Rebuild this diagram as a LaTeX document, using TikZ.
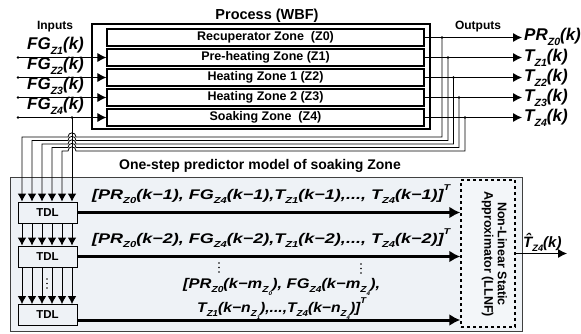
\documentclass[tikz,border=0pt]{standalone}
\usepackage{fontspec}
\setmainfont{Liberation Sans}
\usepackage{graphicx}
\usetikzlibrary{arrows.meta}
\newcommand\fz[1]{\fontsize{#1}{#1}\selectfont}
\newcommand\sbs[1]{\raisebox{-0.32em}{\scalebox{0.62}{#1}}}
\newcommand\sps[1]{\raisebox{0.6em}{\scalebox{0.6}{#1}}}
\newcommand\vv[2]{#1\sbs{#2}}
\definecolor{boxfill}{HTML}{EEF2F6}
\definecolor{llnffill}{HTML}{F3F6F9}
\begin{document}
\begin{tikzpicture}[x=1pt,y=-1pt,
  zonebox/.style={draw, line width=1.1pt, minimum width=317pt, minimum height=17pt, inner sep=0pt, font=\bfseries\fz{12.5}},
  ttl/.style={inner sep=0pt, font=\bfseries\fz{12}},
  lab/.style={inner sep=0pt, font=\bfseries\itshape\fz{17}},
  vec/.style={inner sep=0pt, font=\bfseries\itshape\fz{14}},
  tdlbox/.style={draw, line width=0.8pt, fill=boxfill, minimum width=59pt, minimum height=21pt, inner sep=0pt, font=\bfseries\fz{11.5}},
  inarrow/.style={line width=0.9pt, -{Latex[length=9pt,width=9pt]}},
  fbarrow/.style={line width=0.8pt, -{Latex[length=8pt,width=8.5pt]}},
  thickarrow/.style={line width=3pt, -{Latex[length=11pt,width=12pt]}}
]
\useasboundingbox (0,0) rectangle (581,333);

% ---- process block ----
\node[ttl, font=\bfseries\fz{14.5}] (proctitle) at (267,16) {Process (WBF)};
\node[draw, line width=1.2pt, minimum width=338pt, minimum height=105pt, inner sep=0pt] (proc) at (261,76.5) {};
\node[zonebox] (z0) at (265.5,37.5) {Recuperator Zone~ (Z0)};
\node[zonebox] (z1) at (265.5,57.5) {Pre-heating Zone (Z1)};
\node[zonebox] (z2) at (265.5,77.5) {Heating Zone 1 (Z2)};
\node[zonebox] (z3) at (265.5,97.5) {Heating Zone 2 (Z3)};
\node[zonebox] (z4) at (265.5,117.5) {Soaking Zone~ (Z4)};

% ---- inputs ----
\node[ttl] (inputs) at (55,27) {Inputs};
\node[lab, anchor=base west] (fg1) at (27,49.5) {\vv{FG}{Z1}(k)};
\node[lab, anchor=base west] (fg2) at (27,69.5) {\vv{FG}{Z2}(k)};
\node[lab, anchor=base west] (fg3) at (27,89.5) {\vv{FG}{Z3}(k)};
\node[lab, anchor=base west] (fg4) at (27,109.5) {\vv{FG}{Z4}(k)};
\coordinate (i1) at (18,57.5);
\coordinate (i2) at (18,77.5);
\coordinate (i3) at (18,97.5);
\coordinate (i4) at (18,117.5);
\foreach \k/\z in {1/z1,2/z2,3/z3,4/z4}{
  \draw[inarrow] (i\k) -- (\z.west);
  \fill (i\k) circle (1.3pt);
}

% ---- outputs ----
\node[ttl] (outputs) at (478,27) {Outputs};
\foreach \k/\y in {0/37.5,1/57.5,2/77.5,3/97.5,4/117.5}{
  \coordinate (o\k) at (522,\y);
  \draw[inarrow] (z\k.east) -- (o\k);
}
\node[lab, anchor=base west] (pr0) at (524,40.5) {\vv{PR}{Z0}(k)};
\node[lab, anchor=base west] (t1) at (524,61) {\vv{T}{Z1}(k)};
\node[lab, anchor=base west] (t2) at (524,81) {\vv{T}{Z2}(k)};
\node[lab, anchor=base west] (t3) at (524,101) {\vv{T}{Z3}(k)};
\node[lab, anchor=base west] (t4) at (524,121) {\vv{T}{Z4}(k)};

% ---- predictor block ----
\node[ttl, font=\bfseries\fz{14}] (predtitle) at (260,166) {One-step predictor model of soaking Zone};
\node[draw=black!75, line width=0.9pt, fill=boxfill, minimum width=512pt, minimum height=154pt, inner sep=0pt] (pred) at (266,254) {};

\node[tdlbox] (tdl1) at (47.5,212.5) {TDL};
\node[tdlbox] (tdl2) at (47.5,256.5) {TDL};
\node[tdlbox] (tdl3) at (47.5,315) {TDL};

\node[draw, dashed, line width=1.5pt, fill=llnffill, minimum width=54pt, minimum height=147pt, inner sep=0pt] (llnf) at (488,253.5) {};
\node[rotate=-90, align=center, inner sep=0pt, font=\bfseries\fz{12.5}, text height=10pt] (llnftext) at (488,254) {Non-Linear Static\\[1pt]Approximator (LLNF)};

% x positions of the TDL inputs
\foreach \x [count=\i] in {22,32,42,52,62,72}{ \coordinate (c\i) at (\x,0); }

% feedback taps on the output lines
\coordinate (d0) at (442,37.5);
\coordinate (d1) at (448,57.5);
\coordinate (d2) at (453.5,77.5);
\coordinate (d3) at (459,97.5);
\coordinate (d4) at (465,117.5);
\coordinate (dfg) at (72,117.5);

\foreach \k/\h [count=\i] in {0/137,1/140.5,2/144,3/147.5,4/151}{
  \draw[fbarrow] (d\k) |- (76,\h) .. controls (76,\h-5.5) and (68,\h-5.5) .. (68,\h) -| (c\i |- tdl1.north);
  \fill (d\k) circle (1.3pt);
}
\draw[fbarrow] (dfg) -- (c6 |- tdl1.north);
\fill (dfg) circle (1.3pt);

% between TDLs
\foreach \i in {1,...,6}{
  \draw[fbarrow] (c\i |- tdl1.south) -- (c\i |- tdl2.north);
  \draw[fbarrow] (c\i |- tdl2.south) -- (c\i |- tdl3.north);
}
\foreach \yy in {279,283.5,288}{ \fill[white] (47,\yy) circle (1.6pt); \fill (47,\yy) circle (0.9pt); }

% thick arrows to LLNF
\coordinate (e3) at (77,320);
\draw[thickarrow] (tdl1.east) -- (tdl1.east -| llnf.west);
\draw[thickarrow] (tdl2.east) -- (tdl2.east -| llnf.west);
\draw[thickarrow] (e3) -- (e3 -| llnf.west);

% regressor vectors
\node[vec, anchor=base west] (r1) at (92,199) {\resizebox{358pt}{\height}{[\vv{PR}{Z0}(k−1), \vv{FG}{Z4}(k−1),\vv{T}{Z1}(k−1),..., \vv{T}{Z4}(k−1)]\sps{T}}};
\node[vec, anchor=base west] (r2) at (92,243) {\resizebox{358pt}{\height}{[\vv{PR}{Z0}(k−2), \vv{FG}{Z4}(k−2),\vv{T}{Z1}(k−2),..., \vv{T}{Z4}(k−2)]\sps{T}}};
\node[vec, anchor=base west] (r3) at (183,288) {\resizebox{197pt}{\height}{[\vv{PR}{Z0}(k−m\sbs{Z\sbs{0}}), \vv{FG}{Z4}(k−m\sbs{Z\sbs{4}}),}};
\node[vec, anchor=base west] (r4) at (197,312) {\resizebox{169pt}{\height}{\vv{T}{Z1}(k−n\sbs{Z\sbs{1}}),...,\vv{T}{Z4}(k−n\sbs{Z\sbs{4}})]\sps{T}}};
\foreach \yy in {263,267.5,272}{ \fill (219,\yy) circle (0.9pt); \fill (361,\yy+1) circle (0.9pt); }

% output of LLNF
\coordinate (yhat) at (567,253.5);
\draw[inarrow] (llnf.east) -- (yhat);
\node[lab, font=\bfseries\itshape\fz{15}, anchor=base west] (that) at (523,247) {\^{T}\sbs{Z4}(k)};
\end{tikzpicture}
\end{document}
